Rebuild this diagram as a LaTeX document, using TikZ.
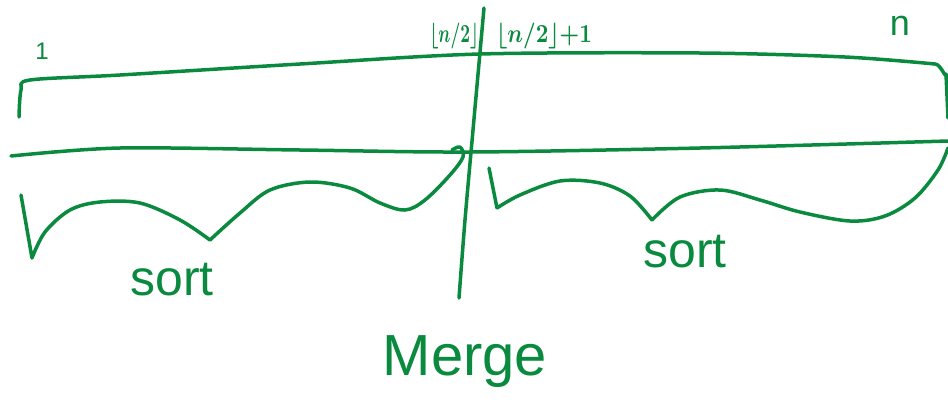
\documentclass[tikz,border=0pt]{standalone}
\usepackage{fontspec}
\setmainfont{Liberation Sans}
\definecolor{ink}{RGB}{10,138,62}
\tikzset{
  pen/.style={draw=ink, line width=3.5pt, line cap=round, line join=round},
  hand/.style={text=ink, inner sep=0pt},
}
\begin{document}
\begin{tikzpicture}[x=1pt,y=-1pt]
\useasboundingbox (0,0) rectangle (948,408);
% array box
\draw[pen] plot[smooth, tension=0.5] coordinates {(19,117) (21,90) (30,80) (120,75) (300,64) (480,54) (700,53) (845,57) (935,64)}
  to[out=0,in=-90] (946,74) -- (948,118);
\draw[pen] plot[smooth, tension=0.5] coordinates {(11,156) (120,148) (300,150) (470,152) (700,148) (948,141)};
% divider
\draw[pen] plot[smooth, tension=0.5] coordinates {(484,8) (473,130) (465,220) (459,298)};
% left brace
\draw[pen] plot[smooth, tension=0.55] coordinates {(21,195) (32,258)}
  plot[smooth, tension=0.55] coordinates {(32,258) (45,232) (70,210) (100,202) (140,203) (180,220) (210,240)}
  plot[smooth, tension=0.55] coordinates {(210,240) (240,213) (270,190) (310,182) (350,188) (380,203) (405,210) (425,200) (450,175) (463,157) (460,147) (452,150)};
% right brace
\draw[pen] plot[smooth, tension=0.55] coordinates {(489,168) (497,208)}
  plot[smooth, tension=0.55] coordinates {(497,208) (520,195) (560,181) (600,183) (630,196) (652,220)}
  plot[smooth, tension=0.55] coordinates {(652,220) (680,197) (720,190) (760,200) (800,212) (850,221) (885,216) (915,198) (938,170) (948,148)};
% labels
\node[hand, font=\fontsize{24}{24}\selectfont] (one) at (42,51) {1};
\node[hand, anchor=east] (half) at (479,36) {\scalebox{1.7}[2.6]{\boldmath$\lfloor n/2\rfloor$}};
\node[hand, anchor=west] (halfp) at (496,36) {\scalebox{2.2}[2.6]{\boldmath$\lfloor n/2\rfloor{+}1$}};
\node[hand, font=\fontsize{36}{36}\selectfont] (n) at (900,26) {n};
\node[hand, font=\fontsize{50}{50}\selectfont] (sortl) at (172,280) {sort};
\node[hand, font=\fontsize{50}{50}\selectfont] (sortr) at (685,252) {sort};
\node[hand, font=\fontsize{58}{58}\selectfont] (merge) at (465,362) {Merge};
\end{tikzpicture}
\end{document}
